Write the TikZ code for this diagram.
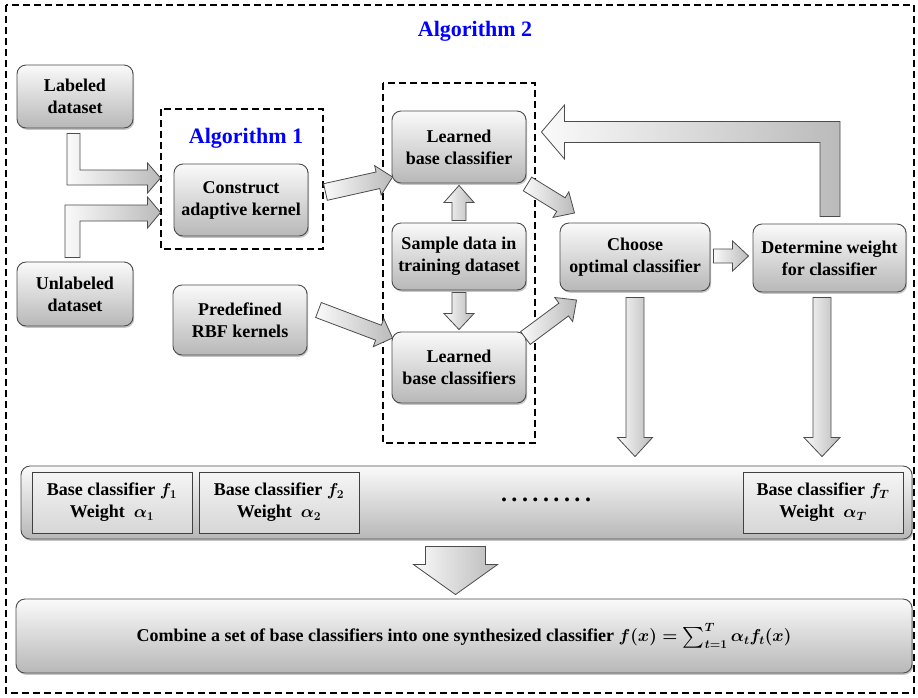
\documentclass[tikz,border=0pt]{standalone}
\usepackage{exscale}
\usepackage{fontspec}
\setmainfont{Liberation Serif}
\usetikzlibrary{calc,shadows}
\tikzset{
  box/.style={draw=black!70, line width=0.9pt, rounded corners=9pt, top color=black!2, bottom color=black!28,
    drop shadow={shadow xshift=1.2pt, shadow yshift=-1.8pt, opacity=0.45},
    align=center, inner sep=2pt, font=\bfseries\boldmath\fontsize{18}{22}\selectfont},
  sbox/.style={draw=black!75, line width=0.8pt, top color=black!4, bottom color=black!16,
    align=center, inner sep=0pt, font=\bfseries\boldmath\fontsize{18}{22}\selectfont},
  frame/.style={draw=black, line width=2pt, dash pattern=on 7pt off 4pt},
  barrow/.style={draw=black!70, line width=0.8pt, left color=black!2, right color=black!27, line join=miter},
  atitle/.style={text=blue, font=\bfseries\fontsize{22}{26}\selectfont, inner sep=0pt}
}
\newcommand\blockarr[5]{%
  \coordinate (ba-h) at ($(#2)!#5!(#1)$);
  \path[barrow] ($(#1)!#3!90:(#2)$) -- ($(ba-h)!#3!-90:(#1)$) -- ($(ba-h)!#4!-90:(#1)$) -- (#2)
    -- ($(ba-h)!#4!90:(#1)$) -- ($(ba-h)!#3!90:(#1)$) -- ($(#1)!#3!-90:(#2)$) -- cycle;
}
\newcommand\bigsum{\mathop{\raisebox{-1pt}{\fontsize{22}{22}\selectfont$\sum$}}\nolimits}
\begin{document}
\begin{tikzpicture}[x=1pt,y=-1pt]
\useasboundingbox (0,0) rectangle (918,697);
\fill[white] (0,0) rectangle (918,697);

% frames
\draw[frame] (6,5) rectangle (914,693);
\draw[frame] (161,109) rectangle (323,249);
\draw[frame] (383,83) rectangle (535,443);

\node[atitle, anchor=base] (t2) at (475,36) {Algorithm 2};
\node[atitle, anchor=base] (t1) at (246,143) {Algorithm 1};

% boxes
\node[box, minimum width=116pt, minimum height=63pt] (lab) at (75,96.5) {Labeled\\dataset};
\node[box, minimum width=116pt, minimum height=64pt] (unl) at (75,294) {Unlabeled\\dataset};
\node[box, minimum width=134pt, minimum height=72pt] (cons) at (241,200) {Construct\\adaptive kernel};
\node[box, minimum width=134pt, minimum height=70pt] (pre) at (240,320) {Predefined\\RBF kernels};
\node[box, minimum width=134pt, minimum height=72pt] (lbc) at (459,147) {Learned\\base classifier};
\node[box, minimum width=134pt, minimum height=67pt] (samp) at (459,256.5) {Sample data in\\training dataset};
\node[box, minimum width=134pt, minimum height=71pt] (lbcs) at (459,367.5) {Learned\\base classifiers};
\node[box, minimum width=150pt, minimum height=68pt] (choose) at (635,257) {Choose\\optimal classifier};
\node[box, minimum width=153pt, minimum height=68pt] (det) at (829.5,258) {Determine weight\\for classifier};

\node[box, minimum width=891pt, minimum height=73pt] (panel) at (466.5,502.5) {};
\node[sbox, minimum width=160pt, minimum height=61pt] (f1) at (112,502.5) {Base classifier $f_1$\\Weight~~$\alpha_1$};
\node[sbox, minimum width=160pt, minimum height=61pt] (f2) at (279,502.5) {Base classifier $f_2$\\Weight~~$\alpha_2$};
\node[sbox, minimum width=160pt, minimum height=61pt] (fT) at (823,502.5) {Base classifier $f_T$\\Weight~~$\alpha_T$};
\node[font=\bfseries\fontsize{24}{24}\selectfont, inner sep=0pt] (dots) at (546,500)
  {.\kern4.5pt.\kern4.5pt.\kern4.5pt.\kern4.5pt.\kern4.5pt.\kern4.5pt.\kern4.5pt.\kern4.5pt.};

\node[box, minimum width=896pt, minimum height=74pt] (comb) at (464,636)
  {Combine a set of base classifiers into one synthesized classifier $f(x)=\bigsum_{t=1}^{T}\alpha_t f_t(x)$};

% L-shaped arrows into Construct
\coordinate (labout) at ($(lab.south)+(-1.5,5)$);
\coordinate (unlout) at ($(unl.north)+(-2.5,-4)$);
\coordinate (in1) at ($(cons.west)+(-13,-22)$);
\coordinate (in2) at ($(cons.west)+(-13,12.5)$);
\path[barrow] ($(labout)+(-6.5,0)$) -- ($(labout |- in1)+(-6.5,7)$) -- ($(in1)+(-13,7)$) -- ($(in1)+(-13,15)$)
  -- (in1) -- ($(in1)+(-13,-15)$) -- ($(in1)+(-13,-8)$) -- ($(labout |- in1)+(6.5,-8)$) -- ($(labout)+(6.5,0)$) -- cycle;
\path[barrow] ($(unlout)+(-7.5,0)$) -- ($(unlout |- in2)+(-7.5,-7.5)$) -- ($(in2)+(-13,-7.5)$) -- ($(in2)+(-13,-15.5)$)
  -- (in2) -- ($(in2)+(-13,15.5)$) -- ($(in2)+(-13,8.5)$) -- ($(unlout |- in2)+(7.5,8.5)$) -- ($(unlout)+(7.5,0)$) -- cycle;

% straight block arrows
\coordinate (a1s) at ($(cons.east)+(17,-8)$);   \coordinate (a1t) at ($(lbc.west)+(1,30)$);
\blockarr{a1s}{a1t}{8.5pt}{15pt}{15pt}
\coordinate (a2s) at ($(pre.east)+(11,-10)$);   \coordinate (a2t) at ($(lbcs.west)+(1,-29.5)$);
\blockarr{a2s}{a2t}{8pt}{15pt}{15pt}
\coordinate (a3s) at ($(lbc.east)+(1,37)$);     \coordinate (a3t) at ($(choose.west)+(15,-44)$);
\blockarr{a3s}{a3t}{8pt}{15pt}{16pt}
\coordinate (a4s) at ($(lbcs.east)+(-1,-29.5)$); \coordinate (a4t) at ($(choose.west)+(17,43)$);
\blockarr{a4s}{a4t}{8pt}{15pt}{16pt}
\coordinate (a5s) at ($(samp.north)+(0,-2)$);   \coordinate (a5t) at ($(lbc.south)+(0,2)$);
\blockarr{a5s}{a5t}{7pt}{15pt}{17pt}
\coordinate (a6s) at ($(samp.south)+(0,2)$);    \coordinate (a6t) at ($(lbcs.north)+(0,-2)$);
\blockarr{a6s}{a6t}{7pt}{15pt}{16pt}
\coordinate (a7s) at ($(choose.east)+(3,-1)$);  \coordinate (a7t) at ($(det.west)+(-4,-2)$);
\blockarr{a7s}{a7t}{7pt}{15pt}{16pt}
\coordinate (a8s) at ($(choose.south)+(0,6)$);  \coordinate (a8t) at ($(a8s |- panel.north)+(0,-9)$);
\blockarr{a8s}{a8t}{9pt}{17.5pt}{19pt}
\coordinate (a9s) at ($(det.south)+(-7.5,5)$);  \coordinate (a9t) at ($(a9s |- panel.north)+(0,-9)$);
\blockarr{a9s}{a9t}{9pt}{18pt}{19pt}
\coordinate (a10s) at ($(panel.south)+(-11,7)$); \coordinate (a10t) at ($(a10s |- comb.north)+(0,-4)$);
\blockarr{a10s}{a10t}{30pt}{42pt}{30pt}

% feedback arrow
\coordinate (fbs) at ($(det.north)+(0.5,-7)$);
\coordinate (fbt) at ($(lbc.east)+(15,-15)$);
\path[barrow] ($(fbs)+(-10,0)$) -- ($(fbs |- fbt)+(-10,10.5)$) -- ($(fbt)+(23,10.5)$) -- ($(fbt)+(23,27)$)
  -- (fbt) -- ($(fbt)+(23,-27)$) -- ($(fbt)+(23,-10.5)$) -- ($(fbs |- fbt)+(10,-10.5)$) -- ($(fbs)+(10,0)$) -- cycle;
\end{tikzpicture}
\end{document}
